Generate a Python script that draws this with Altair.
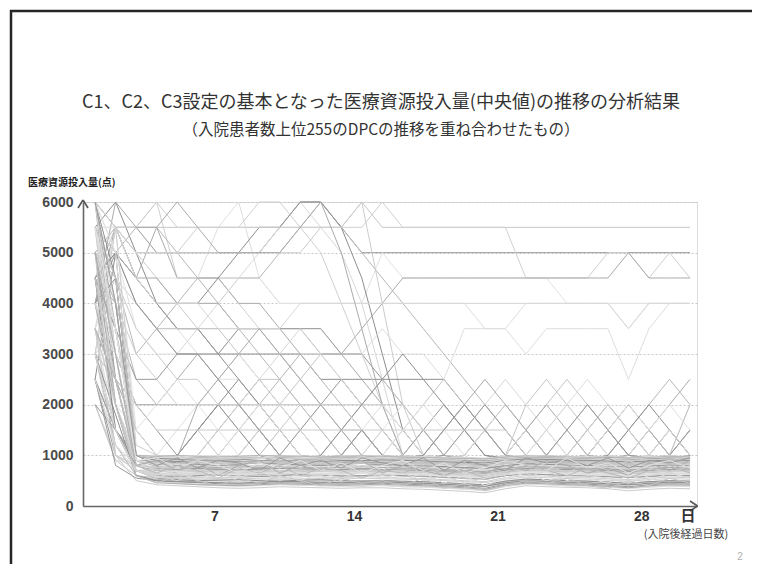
import altair as alt
import pandas as pd

# 入院後経過日数 (days after admission)
days = list(range(1, 31))

# Long-lasting / high-level DPC series (医療資源投入量, points), day 1..30
high_lines = [
    [5500,6000,5000,4000,3500,3500,3000,2500,2000,1500,1000,950,900,900,880,870,860,850,840,820,860,880,870,860,850,840,850,860,870,860],
    [4500,5500,5000,4500,4000,3500,3500,3500,3500,3000,2500,2000,1500,1000,950,940,930,920,900,880,920,940,930,920,910,900,920,930,940,930],
    [3000,5500,5500,6000,4500,4500,4500,4000,3500,3000,2500,2000,2000,1500,1000,980,970,960,950,940,960,980,970,960,950,940,950,960,970,960],
    [5000,5500,4500,5500,4500,4500,4500,4000,4000,3500,3500,3000,3000,2500,2000,1500,1000,950,940,930,960,980,970,960,950,940,950,960,970,960],
    [5500,5500,5000,4500,4500,4500,5500,6000,4500,4000,4000,4000,4000,4000,4000,4000,4000,4000,4000,3500,3500,3000,3500,3500,3500,3500,2500,3500,4000,4000],
    [6000,5500,5500,5000,5000,5000,5000,5000,5000,5500,6000,6000,5500,5000,5000,5000,5000,5000,5000,5000,5000,5000,5000,5000,5000,5000,5000,5000,5000,5000],
    [5000,5500,5500,5500,5500,5500,5500,5500,5500,5500,5500,5500,5500,6000,5500,5500,5500,5500,5500,5500,5500,5500,5500,5500,5500,5500,5500,5500,5500,5500],
    [5500,5000,4500,4000,4000,4000,4000,4500,4500,4000,4000,4000,4000,4000,5000,4500,4500,4500,4500,4500,4500,4500,4500,4000,4000,4000,4000,4000,4000,4000],
    [4000,5000,5500,5500,5000,4500,4500,4500,4500,5000,5500,6000,5500,5000,4500,4000,3500,3000,2500,2000,1500,1000,950,940,930,920,930,940,950,940],
    [3500,4500,4000,3500,3000,3500,4000,4500,5000,5500,6000,5500,5000,4000,2500,1000,900,880,870,860,880,900,890,880,870,860,870,880,890,880],
    [2500,5000,4500,4000,4000,4000,4500,5000,5500,5500,6000,6000,5500,4500,3000,1500,1000,950,940,930,950,960,950,940,930,920,930,940,950,940],
    [4500,5500,5000,5000,5000,5000,5000,5000,5000,5000,5000,5500,5500,6000,4000,2000,1000,950,940,930,950,960,950,940,930,920,930,940,950,940],
    [5000,5500,5500,6000,5500,5500,5500,5500,5500,5500,5500,5500,5500,5500,6000,5500,5500,5500,5500,5500,5500,4500,4500,4500,4500,5000,5000,4500,5000,4500],
    [4000,5000,4500,4500,4000,4000,4000,3500,3500,3500,3000,3000,3000,3500,4000,4500,4500,4500,4500,4500,4500,4500,4500,4500,4500,4500,5000,4500,4500,4500],
    [5500,4500,4000,3500,3500,3000,3000,3500,3500,3500,3500,3500,3000,3000,3500,3000,3000,2500,3500,3500,3500,4000,4000,4000,4000,4000,3500,4000,4000,4000],
    [4000,5500,4500,4000,3500,3500,3000,3500,3500,3500,3500,3500,3000,3000,2500,2000,1500,1000,950,930,960,970,960,950,940,930,940,950,960,950],
    [5500,5000,4000,3500,3500,3500,3500,3000,2500,2500,2000,2000,1500,1500,1000,920,910,900,890,880,900,920,910,900,890,880,890,900,910,900],
    [6000,5000,3500,3000,3000,3000,2500,2500,2000,1500,1000,900,880,870,860,850,840,830,820,800,840,860,850,840,830,820,830,840,850,840],
    [5000,4500,3000,3500,4000,4500,4000,3500,3000,2500,2000,1500,1000,960,950,940,930,920,910,900,920,940,930,920,910,900,910,920,930,920],
    [3500,5500,4500,4000,4000,4000,3500,3500,3500,3500,4000,4000,4000,4000,4000,4000,4000,4000,4000,4000,4000,4000,4000,4000,4000,4000,3500,4000,4000,4000],
    [4500,5000,4000,3500,3000,3000,3000,3000,3000,3000,3000,2500,2500,2500,2500,2500,2500,2500,2000,1500,1000,950,940,930,920,910,920,930,940,930],
    [5500,4500,3500,3000,2500,2500,2000,2000,2000,2000,2000,2000,2000,2000,2000,2000,1500,1000,940,930,950,960,950,940,930,920,930,940,950,940],
    [3000,5500,5000,5000,5000,5500,5500,5500,6000,6000,5500,5000,4000,3000,2000,1000,950,930,920,910,930,950,940,930,920,910,920,930,940,930],
    [4000,6000,5500,5500,6000,5500,5000,5000,5000,5000,5500,6000,5000,3500,2000,1000,900,890,880,870,890,910,900,890,880,870,880,890,900,890],
]

# Series that stay near the 1000-point band but swing up to 1500-3500 at times
mid_lines = [
    [3500,1500,900,800,1000,1500,2000,1500,1000,900,850,800,1000,1500,1000,850,800,780,760,740,800,850,820,800,790,780,800,820,830,820],
    [2500,1000,800,750,700,1000,1500,2000,2500,2000,1500,1000,900,850,800,1000,1500,2000,1500,1000,900,850,800,780,760,740,760,780,800,790],
    [4000,2000,1000,900,850,800,780,1000,1500,2000,2500,3000,2500,2000,1500,1000,900,880,860,850,1000,1500,2000,2500,2000,1500,1000,900,880,870],
    [5000,2500,1500,1000,900,850,800,800,1000,1500,1000,900,850,1000,1500,2000,1500,1000,900,880,860,1000,1500,1000,900,880,1000,1500,1000,950],
    [6000,3000,1000,900,880,860,1000,1500,2000,2500,3000,2500,2000,1500,1000,950,930,920,1000,1500,2000,1500,1000,950,930,1000,1500,2000,2500,2000],
    [4500,2000,900,850,820,800,790,780,760,1000,1500,2000,1500,1000,900,880,860,1000,1500,2000,2500,2000,1500,1000,1500,2000,1500,1000,900,880],
    [3000,1500,1000,950,1000,1500,2000,2500,2000,1500,1000,950,1000,1500,1000,950,940,930,920,900,1000,1500,1000,950,1000,1500,2000,1500,1000,1500],
    [5500,3500,1500,1000,950,940,930,1000,1500,1000,950,1000,1500,2000,2500,2000,1500,1000,950,940,960,980,1000,1500,2000,1500,1000,950,1000,2000],
    [2000,1000,700,650,640,630,620,1000,1500,2000,1500,1000,800,1000,1500,1000,800,780,1000,1500,1000,800,1000,1500,1000,800,780,1000,1500,1000],
    [4000,2500,2000,2000,2500,3000,2500,2000,1500,1000,900,880,860,850,840,1000,1500,1000,900,880,1000,1500,2000,1500,1000,950,1000,1500,2000,2500],
    [3500,1000,800,1000,1500,2000,2500,3000,2500,2000,1500,1000,900,880,870,860,850,840,830,820,840,1000,1500,2000,2500,2000,1500,1000,900,890],
    [5000,3000,2000,1500,1000,900,880,870,860,1000,1500,2000,2500,2000,1500,1000,950,1000,1500,2000,1500,1000,950,940,1000,1500,1000,950,1000,1500],
    [4500,1500,1000,900,1000,1500,1000,900,1000,1500,2000,1500,1000,950,1000,1500,2000,2500,2000,1500,1000,2000,2500,2000,1500,1000,950,940,1000,2000],
    [3000,2000,1500,2000,2500,2000,1500,1000,950,940,930,920,1000,1500,2000,1500,1000,950,940,930,1000,1500,1000,940,1000,1500,2000,1500,1000,950],
    [6000,4000,2500,2000,2000,2000,2000,2000,1500,1000,900,890,1000,1500,1000,900,1000,1500,2000,1500,1000,900,880,1000,1500,2000,1500,1000,1500,1000],
    [5500,2000,1000,950,900,1000,1500,2000,2500,3000,3500,3000,2500,2000,1500,1000,960,950,940,930,950,1000,1500,2000,1500,1000,950,1000,1500,1000],
    [2500,1500,900,850,1000,1500,2000,1500,1000,850,840,1000,1500,2000,2500,3000,2500,2000,1500,1000,950,940,930,920,910,1000,1500,2000,1500,1000],
    [4000,3000,2000,1500,1500,1500,1500,1500,1500,1500,1500,1500,1500,1500,1500,1500,1500,1500,1500,1500,1500,1000,950,1000,1500,2000,1500,1000,950,1000],
    [5000,4000,3000,2500,2000,2000,2000,2000,2000,2000,2000,2000,2000,1500,1000,950,940,930,1000,1500,2000,1500,1000,950,940,930,920,1000,1500,1000],
    [3500,2500,1500,1000,950,2000,2500,3000,3500,3000,2500,2000,1500,1000,950,940,1000,1500,2000,2500,2000,1500,1000,950,940,930,1000,1500,1000,950],
    [2000,900,800,780,760,740,1000,1500,2000,1500,1000,800,780,760,1000,1500,2000,1500,1000,780,760,1000,1500,1000,760,740,1000,1500,2000,1500],
    [4500,3500,2500,2500,3000,3000,2500,2000,1500,1000,950,940,1000,1500,1000,950,1000,1500,2000,1500,1000,950,1000,1500,2000,1500,1000,950,940,1000],
]

# Majority of DPCs: high on day 1-2, then a flat band between ~300 and 1000 points
band_lines = [
    [5500,3000,900,850,820,800,800,780,800,820,800,790,800,780,800,790,770,760,740,720,780,800,790,780,770,760,740,760,770,750],
    [6000,2500,800,700,650,640,620,600,620,640,620,610,600,600,610,590,580,560,540,520,600,640,620,600,600,580,560,580,600,590],
    [5000,1500,700,600,560,540,520,500,520,540,520,510,500,500,510,490,480,460,440,420,500,540,520,500,500,480,460,480,500,490],
    [4500,3500,1000,950,940,960,950,930,950,960,950,940,950,960,940,950,930,920,940,930,950,970,960,950,940,950,930,940,960,950],
    [4000,2000,600,500,450,430,420,400,410,430,410,400,400,390,410,380,380,360,340,320,400,440,420,400,400,380,360,380,400,390],
    [3000,1000,700,680,700,720,690,700,710,690,700,720,710,690,700,720,700,680,660,640,700,730,720,700,690,680,660,690,710,700],
    [5000,4000,900,880,860,870,900,890,870,880,900,890,870,880,900,870,860,850,840,830,870,900,880,870,860,870,850,870,880,870],
    [2500,1200,800,760,740,720,700,700,720,740,760,740,720,700,720,740,720,700,680,660,700,760,740,720,700,690,670,700,720,710],
    [4500,5000,1000,900,850,820,800,820,850,830,810,800,820,840,820,800,790,780,760,740,800,830,820,810,800,780,760,790,810,800],
    [5500,4500,800,620,600,580,560,560,580,600,590,570,560,580,570,550,540,520,500,480,560,600,590,570,560,540,520,550,570,560],
    [3500,2000,700,640,620,610,600,590,600,620,610,600,590,600,610,600,590,570,550,530,600,630,620,610,600,590,570,600,610,600],
    [6000,3500,1000,980,960,950,940,950,960,970,960,950,940,960,950,940,930,920,900,880,950,980,970,960,950,940,920,950,960,950],
    [4000,1500,600,480,450,420,400,390,400,420,410,400,390,400,400,380,370,350,330,300,380,430,420,400,390,370,340,370,390,380],
    [5000,2500,900,820,800,780,790,800,790,780,800,810,800,790,800,780,770,760,760,740,790,820,810,800,790,780,760,780,800,790],
    [2000,900,600,560,540,520,500,480,500,520,510,500,490,500,490,480,470,440,420,400,480,520,510,500,490,470,440,470,490,480],
    [5500,5500,1500,1000,950,900,880,870,880,900,890,880,870,880,900,880,870,860,850,840,880,900,890,880,870,860,840,860,880,870],
    [3000,2500,800,720,700,680,670,660,680,700,690,680,670,680,690,670,660,640,620,600,670,700,690,680,670,650,630,660,680,670],
    [4500,3000,700,560,520,500,490,480,500,520,500,490,480,490,500,480,470,450,430,410,490,530,520,500,490,470,450,480,500,490],
    [6000,4500,1000,900,880,860,870,880,860,850,870,880,860,850,870,860,850,840,830,810,860,890,880,870,860,850,830,850,870,860],
    [3500,1000,500,420,400,380,360,350,360,380,370,360,350,360,360,340,330,310,290,260,340,400,380,370,360,340,300,330,350,340],
    [5000,3500,1000,950,900,920,940,920,900,920,940,930,910,930,920,900,910,890,880,870,910,940,930,920,910,900,880,900,920,910],
    [4000,2000,800,740,720,760,740,720,740,760,750,730,720,740,760,740,720,700,690,670,740,770,760,740,730,720,700,730,750,740],
    [5500,4000,1000,800,760,740,720,700,720,740,730,720,700,720,730,710,700,680,660,640,720,750,740,720,710,700,670,700,720,710],
    [2500,1500,700,600,580,600,620,600,580,600,620,610,590,600,620,600,590,570,560,540,600,630,620,600,590,580,560,590,610,600],
    [4500,2500,900,860,840,850,830,840,860,850,840,830,850,840,830,850,840,820,810,790,840,870,860,850,840,830,810,840,850,840],
    [6000,5000,1000,1000,980,990,1000,980,990,1000,990,980,990,1000,990,980,970,960,950,940,980,1000,990,980,970,980,960,970,990,980],
    [3000,1200,600,520,500,480,460,450,460,480,470,460,450,460,470,450,440,420,400,380,450,490,480,460,450,430,410,440,460,450],
    [5000,3000,800,700,680,660,640,650,670,660,650,640,650,660,650,640,630,610,590,570,640,680,670,650,640,620,600,630,650,640],
    [4000,4500,1000,940,920,900,910,920,900,890,910,920,900,890,910,900,890,870,860,850,900,930,920,910,900,890,870,890,910,900],
    [3500,2000,700,580,550,560,540,530,550,560,550,540,530,550,540,530,520,500,480,460,530,570,560,540,530,510,490,520,540,530],
    [5500,2000,800,760,780,770,750,760,780,770,760,750,760,770,760,750,740,730,710,690,750,780,770,760,750,740,720,740,760,750],
    [4500,3500,900,780,760,740,760,780,760,740,760,770,750,740,760,750,740,720,700,680,740,780,770,750,740,730,710,740,760,750],
    [6000,4000,1000,960,950,970,960,940,950,970,960,950,940,950,960,950,940,930,920,910,950,980,970,960,950,940,930,950,970,960],
    [2500,800,550,500,480,460,440,430,440,460,450,440,430,440,450,430,420,400,380,350,430,470,460,440,430,410,380,420,440,430],
    [5000,4000,900,700,720,700,680,690,710,700,690,680,690,700,690,680,670,650,630,610,680,710,700,690,680,660,640,670,690,680],
    [4000,3000,800,660,640,650,630,620,640,650,640,630,620,640,630,620,610,590,570,550,620,660,650,630,620,600,580,610,630,620],
    [3500,2500,900,880,900,880,860,870,890,880,870,860,870,880,870,860,850,840,820,800,860,890,880,870,860,850,830,850,870,860],
    [5500,3000,700,620,640,660,650,640,660,670,660,650,640,650,660,640,630,620,600,580,640,680,670,650,640,620,600,630,650,640],
    [4500,1500,700,540,520,500,510,520,500,490,510,520,500,490,500,490,480,460,440,420,490,530,520,500,490,470,450,480,500,490],
    [3000,3500,1000,920,900,880,860,850,870,890,880,860,850,870,880,860,850,840,820,800,860,890,880,870,860,850,830,850,870,860],
    [6000,5500,1200,1000,960,940,920,930,950,940,930,920,930,950,940,930,920,900,890,870,920,950,940,930,920,910,890,910,930,920],
    [5000,2000,600,460,440,420,410,400,420,440,430,420,410,420,430,410,400,380,360,330,410,450,440,420,410,390,360,400,420,410],
    [4000,3500,900,840,820,800,780,790,810,800,790,780,790,800,790,780,770,750,730,710,780,810,800,790,780,770,750,770,790,780],
    [2000,1500,800,700,720,740,720,710,730,740,730,720,710,730,720,710,700,680,660,640,710,740,730,720,710,700,680,700,720,710],
    [5500,4500,1000,820,840,860,840,830,850,860,850,840,830,850,840,830,820,810,790,770,830,860,850,840,830,820,800,820,840,830],
    [3500,3000,800,720,680,650,630,620,640,660,650,640,630,640,650,630,620,600,580,560,630,670,660,640,630,610,590,620,640,630],
    [4500,4000,1000,980,1000,980,970,980,1000,990,980,970,980,990,980,970,960,950,940,930,970,990,980,970,960,970,950,960,980,970],
    [6000,3000,900,800,740,700,680,670,690,710,700,690,680,690,700,680,670,650,630,610,680,720,710,690,680,660,640,670,690,680],
    [3000,1800,600,500,480,470,460,450,470,490,480,470,460,470,480,460,450,430,410,390,460,500,490,470,460,440,420,450,470,460],
    [5000,1000,700,720,700,690,700,710,690,680,700,710,700,690,700,690,680,670,650,630,690,720,710,700,690,680,660,680,700,690],
]

# Band series that wobble from day to day inside the 300-1000 range
wobble_lines = [
    [4000,2500,900,700,850,650,900,700,600,850,750,900,650,800,700,900,600,750,850,700,600,900,800,650,850,700,900,750,650,800],
    [5000,3000,800,900,700,850,600,800,900,650,800,700,850,900,650,800,700,600,750,650,800,700,900,800,650,750,600,850,700,900],
    [3000,1500,700,550,700,500,650,550,700,600,500,650,550,700,600,500,650,450,600,400,550,650,500,600,550,450,600,500,650,550],
    [6000,4000,1000,800,950,750,900,850,700,950,800,900,750,950,850,800,950,700,900,800,700,950,850,900,800,950,750,900,850,950],
    [4500,2000,600,450,600,500,400,550,450,600,500,400,550,450,500,400,550,350,450,300,400,500,450,550,400,350,500,400,550,450],
    [5500,3500,900,950,750,900,800,650,850,750,900,700,850,650,800,900,700,850,650,750,900,800,700,950,750,850,650,800,900,750],
    [3500,2500,800,650,800,700,550,750,650,800,600,750,700,550,700,650,800,600,700,550,650,800,700,600,750,650,550,700,800,650],
    [2500,1200,700,600,500,650,550,600,700,500,650,600,500,700,550,650,500,600,450,550,650,550,700,500,600,550,450,600,650,550],
]

# Axis tick values
x_ticks = [7, 14, 21, 28]
y_ticks = [0, 1000, 2000, 3000, 4000, 5000, 6000]

# Texts
title_line1 = "C1、C2、C3設定の基本となった医療資源投入量(中央値)の推移の分析結果"
title_line2 = "（入院患者数上位255のDPCの推移を重ね合わせたもの）"
y_title = "医療資源投入量(点)"
x_unit = "日"
x_title = "(入院後経過日数)"
page_no = "2"

rows = []
for group, lines in (("h", high_lines), ("m", mid_lines), ("b", band_lines), ("c", wobble_lines)):
    for i, vals in enumerate(lines):
        for d, v in zip(days, vals):
            rows.append({"series": f"{group}{i:02d}", "day": d, "value": v})
df = pd.DataFrame(rows)

grays = ["#d0d0d0", "#ababab", "#dedede", "#9a9a9a", "#c6c6c6", "#e2e2e2", "#b8b8b8", "#d8d8d8", "#8e8e8e", "#cccccc"]

JP = "Noto Sans CJK JP"
LAT = "Liberation Sans"

lines = alt.Chart(df).mark_line(strokeWidth=1, opacity=1).encode(
    x=alt.X("day:Q",
            scale=alt.Scale(domain=[0.41, 30.34], nice=False, zero=False),
            axis=alt.Axis(values=x_ticks, title=None, grid=False, ticks=False,
                          labelFont=LAT, labelFontSize=14, labelFontWeight="bold",
                          labelColor="#333333", labelAlign="right", labelPadding=3,
                          labelFlush=False, domainColor="#666666", domainWidth=1.6)),
    y=alt.Y("value:Q",
            scale=alt.Scale(domain=[0, 6000], nice=False),
            axis=alt.Axis(values=y_ticks, title=None, grid=True, gridColor="#c8c8c8",
                          gridDash=[2, 2], gridWidth=1, ticks=False, format="d",
                          labelFont=LAT, labelFontSize=14, labelFontWeight="bold",
                          labelColor="#4a4a4a",
                          labelPadding=10, domainColor="#666666", domainWidth=1.6)),
    color=alt.Color("series:N", scale=alt.Scale(range=grays), legend=None),
    detail="series:N",
)

one = pd.DataFrame({"k": [0]})

def text(t, x, y, size, weight="normal", color="#333333", align="center", font=JP):
    return alt.Chart(one).mark_text(text=t, fontSize=size, fontWeight=weight, color=color,
                                    align=align, baseline="middle", font=font).encode(
        x=alt.value(x), y=alt.value(y))

def stroke(x1, y1, x2, y2, color="#555555", width=1.6):
    return alt.Chart(one).mark_rule(color=color, strokeWidth=width).encode(
        x=alt.value(x1), y=alt.value(y1), x2=alt.value(x2), y2=alt.value(y2))

# Arrow heads at the axis ends (open chevrons)
arrows = [
    stroke(607, 299, 614.5, 304), stroke(607, 309, 614.5, 304),
    stroke(-5, 6, 0, -2), stroke(5, 6, 0, -2),
]

# Slide frame (top and left edges)
frame = [
    stroke(-72, -192, -72, 362, color="#262626", width=2.5),
    stroke(-73, -191, 669, -191, color="#262626", width=2.5),
]

chart = alt.layer(
    lines,
    *arrows,
    *frame,
    text(title_line1, 298, -99, 18, color="#333333"),
    text(title_line2, 298, -72, 15.5, color="#333333"),
    text(y_title, -55, -19, 10, weight="bold", align="left", color="#222222"),
    text(x_unit, 605, 314, 15, weight="bold", color="#333333"),
    text(x_title, 603, 333, 11, color="#444444"),
    text(page_no, 657, 355, 10, color="#b0b0b0", font=LAT),
).properties(
    width=614, height=304,
    autosize=alt.AutoSizeParams(type="none"),
    padding={"left": 75, "top": 194, "right": 55, "bottom": 58},
).configure_view(stroke=None).configure(background="white")

chart.save("out.html", embed_options={"renderer": "svg", "actions": False})
